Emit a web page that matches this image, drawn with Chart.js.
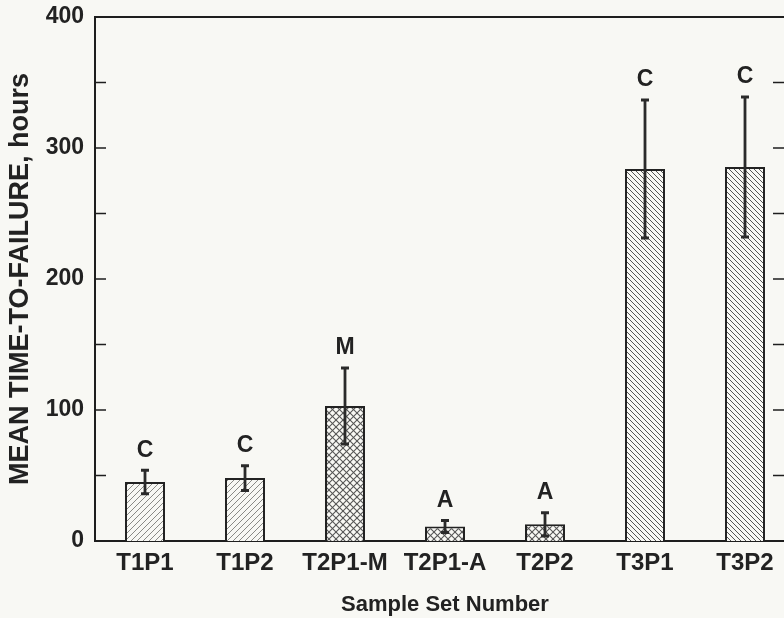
<!DOCTYPE html>
<html>
<head>
<meta charset="utf-8">
<script src="https://cdn.jsdelivr.net/npm/chart.js@4"></script>
<style>
  html, body { margin: 0; padding: 0; background: #f8f8f4; overflow: hidden; }
  #wrap { width: 784px; height: 618px; overflow: hidden; }
</style>
</head>
<body>
<div id="wrap"><canvas id="ttf" width="800" height="618"></canvas></div>
<script>
// sample sets and mean time-to-failure (hours) with error bar half-widths
const sampleSets = ["T1P1", "T1P2", "T2P1-M", "T2P1-A", "T2P2", "T3P1", "T3P2"];
const meanHours = [45, 48, 103, 11, 12.7, 284, 285.5];
const errHours = [9, 9.5, 29, 4.6, 8.8, 52.7, 53.5];
const failureMode = ["C", "C", "M", "A", "A", "C", "C"];
const yTicks = [0, 100, 200, 300, 400];

const BG = "#f8f8f4";
const INK = "#222";
const FONT = "'Liberation Sans', Arial, Helvetica, sans-serif";

const ctx = document.getElementById("ttf").getContext("2d");

// small tile with diagonal lines, repeated as a fill
const hatch = (size, dirs, color, width) => {
  const c = document.createElement("canvas");
  c.width = c.height = size;
  const g = c.getContext("2d");
  g.fillStyle = BG;
  g.fillRect(0, 0, size, size);
  g.strokeStyle = color;
  g.lineWidth = width;
  dirs.forEach((d) => {
    [-size, 0, size].forEach((k) => {
      g.beginPath();
      if (d === "/") {
        g.moveTo(k, size);
        g.lineTo(k + size, 0);
      } else {
        g.moveTo(k, 0);
        g.lineTo(k + size, size);
      }
      g.stroke();
    });
  });
  return ctx.createPattern(c, "repeat");
};

const fills = {
  T1: hatch(6, ["/"], "#8a8a86", 1),
  T2: hatch(7, ["/", "\\"], "#555", 1.1),
  T3: hatch(5, ["\\"], "#555", 1),
};

// error bars + failure mode letters
const errorBars = {
  id: "errorBars",
  afterDatasetsDraw(chart) {
    const { ctx, scales: { y } } = chart;
    const meta = chart.getDatasetMeta(0);
    ctx.save();
    ctx.strokeStyle = "#2a2a2a";
    ctx.fillStyle = INK;
    meta.data.forEach((bar, i) => {
      const top = y.getPixelForValue(meanHours[i] + errHours[i]);
      const bot = y.getPixelForValue(meanHours[i] - errHours[i]);
      ctx.lineWidth = 2.8;
      ctx.beginPath();
      ctx.moveTo(bar.x, top);
      ctx.lineTo(bar.x, bot);
      ctx.stroke();
      ctx.lineWidth = 3;
      ctx.beginPath();
      ctx.moveTo(bar.x - 4, top);
      ctx.lineTo(bar.x + 4, top);
      ctx.moveTo(bar.x - 4, bot);
      ctx.lineTo(bar.x + 4, bot);
      ctx.stroke();

      ctx.font = "bold 23px " + FONT;
      ctx.textAlign = "center";
      ctx.textBaseline = "middle";
      ctx.fillText(failureMode[i], bar.x, top - 20);
    });
    ctx.restore();
  },
};

// top border and inward tick marks on both sides
const frame = {
  id: "frame",
  afterDraw(chart) {
    const { ctx, chartArea: a, scales: { y } } = chart;
    ctx.save();
    ctx.strokeStyle = "#1e1e1e";
    ctx.lineWidth = 2;
    ctx.beginPath();
    ctx.moveTo(a.left - 1, a.top);
    ctx.lineTo(a.right, a.top);
    ctx.lineTo(a.right, a.bottom);
    ctx.stroke();
    ctx.lineWidth = 1.5;
    for (let v = 50; v < 400; v += 50) {
      const py = y.getPixelForValue(v);
      ctx.beginPath();
      ctx.moveTo(a.left, py);
      ctx.lineTo(a.left + 11, py);
      ctx.moveTo(a.right, py);
      ctx.lineTo(a.right - 22, py);
      ctx.stroke();
    }
    ctx.restore();
  },
};

new Chart(ctx, {
  type: "bar",
  data: {
    labels: sampleSets,
    datasets: [
      {
        data: meanHours,
        backgroundColor: sampleSets.map((s) => fills[s.slice(0, 2)]),
        borderColor: INK,
        borderWidth: 2,
        barPercentage: 0.4,
        categoryPercentage: 1,
      },
    ],
  },
  options: {
    responsive: false,
    devicePixelRatio: 1,
    animation: false,
    layout: { padding: { top: 17, right: 5, left: 0, bottom: 0 } },
    plugins: {
      legend: { display: false },
      tooltip: { enabled: false },
    },
    scales: {
      x: {
        grid: { display: false, drawTicks: false },
        border: { display: true, color: "#1e1e1e", width: 2 },
        ticks: {
          color: INK,
          font: { family: FONT, size: 24, weight: "bold" },
          padding: 8,
          maxRotation: 0,
          autoSkip: false,
        },
        title: {
          display: true,
          text: "Sample Set Number",
          color: INK,
          font: { family: FONT, size: 22, weight: "bold" },
          padding: { top: 0, bottom: 0 },
        },
        afterFit: (s) => {
          s.height = 77;
        },
      },
      y: {
        min: 0,
        max: 400,
        afterBuildTicks: (s) => {
          s.ticks = yTicks.map((v) => ({ value: v }));
        },
        grid: { display: false, drawTicks: false },
        border: { display: true, color: "#1e1e1e", width: 2 },
        ticks: {
          color: INK,
          font: { family: FONT, size: 23, weight: "bold" },
          padding: 11,
        },
        title: {
          display: true,
          text: "MEAN TIME-TO-FAILURE, hours",
          color: INK,
          font: { family: FONT, size: 27, weight: "bold" },
          padding: { top: 4, bottom: 0 },
        },
        afterFit: (s) => {
          s.width = 95;
          s.paddingTop = 0;
          s.paddingBottom = 0;
        },
      },
    },
  },
  plugins: [errorBars, frame],
});
</script>
</body>
</html>
